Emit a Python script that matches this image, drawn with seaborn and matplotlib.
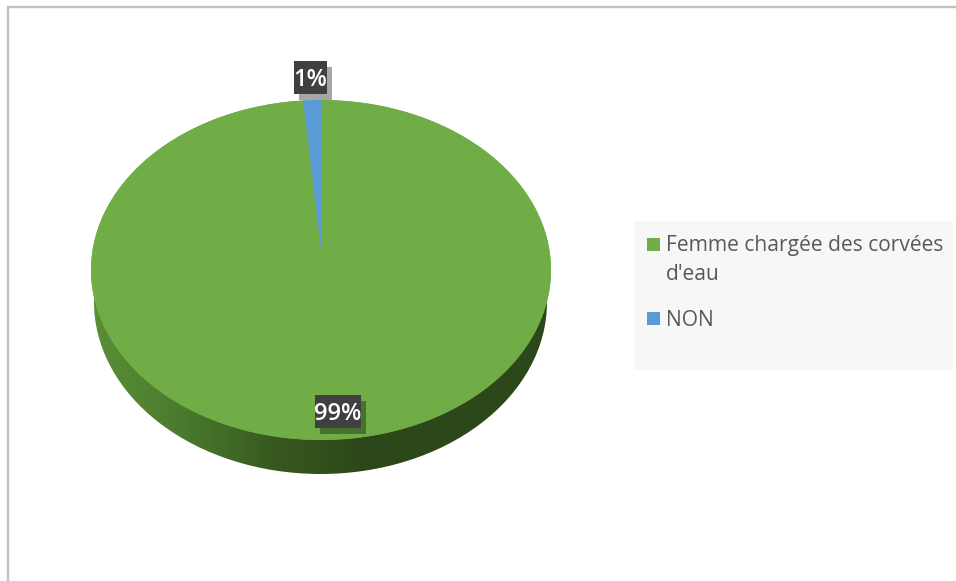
import matplotlib
matplotlib.use("Agg")
import matplotlib.pyplot as plt
import numpy as np
import seaborn as sns
from matplotlib.colors import ListedColormap
from matplotlib.patches import Ellipse, Rectangle
from matplotlib.transforms import Affine2D

categories = ["Femme chargée des corvées\nd'eau", "NON"]
shares = [98.75, 1.25]

GREEN = "#70ad47"
BLUE = "#5b9bd5"
colors = [GREEN, BLUE]

# pixel boxes of the data labels: left, top, width, height
label_boxes = [(315, 395, 46, 33), (294, 61, 33, 33)]
# pixel positions of the legend: swatch top, text centre
legend_rows = [(238, 260.5), (312, 320)]

sns.set_theme(style="white")
plt.rcParams["font.family"] = ["Open Sans", "DejaVu Sans"]

fig = plt.figure(figsize=(9.56, 5.81), dpi=100)
ax = fig.add_axes([0, 0, 1, 1])

# top of the disc, blue slice has its apex a bit above the ellipse centre
wedges, _ = ax.pie(shares, colors=colors, startangle=90, counterclock=False)
wedges[0].set_transform(Affine2D().scale(230, -170).translate(321, 270) + ax.transData)
wedges[1].set_transform(Affine2D().scale(230, -150).translate(321, 250) + ax.transData)
for w in wedges:
    w.set_zorder(3)
    w.set_linewidth(0)
ax.set_aspect("auto")
ax.set_axis_on()

# fills the gap left by the shifted apex
ax.add_patch(Ellipse((321, 270), 460, 340, fc=GREEN, ec="none", zorder=2.5))

# side of the disc, lower ellipse is a bit narrower (perspective)
side = sns.blend_palette(["#5a8f37", "#4a7a2d", "#37591f", "#2c4719", "#2c4719", "#2c4719"], 256)
grad = np.linspace(0, 1, 256).reshape(1, -1)
clip = Ellipse((320.5, 302), 453, 344, transform=ax.transData)
im = ax.imshow(grad, cmap=ListedColormap(side), extent=(91, 551, 480, 125), aspect="auto", zorder=2)
im.set_clip_path(clip)

# labels with their offset shadow
for value, (x, y, w, h) in zip(shares, label_boxes):
    ax.add_patch(Rectangle((x + 5, y + 6), w, h, fc="black", ec="none", alpha=0.35, zorder=4))
    ax.add_patch(Rectangle((x, y), w, h, fc="#404040", ec="none", zorder=5))
    ax.text(x + w / 2, y + h / 2 + 3, f"{value:.0f}%", color="white", fontsize=17, fontweight="semibold",
            ha="center", va="center", zorder=6)

# legend box, drawn by hand because the swatch sits on the first line of the wrapped label
ax.add_patch(Rectangle((634, 221), 319, 149, fc="#f7f7f7", ec="none", zorder=1))
for name, col, (top, mid) in zip(categories, colors, legend_rows):
    ax.add_patch(Rectangle((647, top), 13, 13, fc=col, ec="none", zorder=2))
    ax.text(666, mid, name, color="#595959", fontsize=15.15, ha="left", va="center", linespacing=1.5, zorder=2)

# screenshot border
ax.plot([8.2, 8.2, 956], [581, 7.2, 7.2], color="#c0c0c0", lw=1.7, zorder=7, solid_joinstyle="miter")

ax.set_xlim(0, 956)
ax.set_ylim(581, 0)
ax.set_xticks([])
ax.set_yticks([])
for s in ax.spines.values():
    s.set_visible(False)

fig.savefig("out.png", dpi=100)
plt.close()
